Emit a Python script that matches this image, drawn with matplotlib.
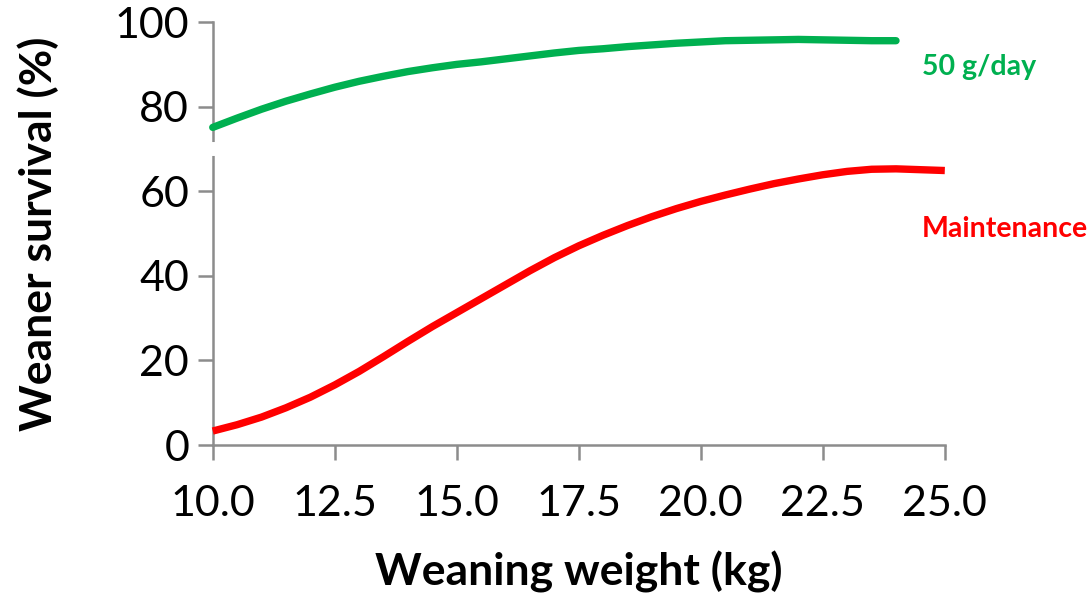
import matplotlib.pyplot as plt

# Datos (cada 0.5 kg)
peso_verde = [10, 10.5, 11, 11.5, 12, 12.5, 13, 13.5, 14, 14.5, 15, 15.5, 16,
              16.5, 17, 17.5, 18, 18.5, 19, 19.5, 20, 20.5, 21, 21.5, 22,
              22.5, 23, 23.5, 24]
superv_verde = [75.1, 77.3, 79.4, 81.3, 83.0, 84.6, 86.0, 87.2, 88.3, 89.2,
                90.0, 90.6, 91.3, 92.0, 92.7, 93.3, 93.7, 94.2, 94.6, 95.0,
                95.3, 95.6, 95.7, 95.8, 95.9, 95.8, 95.7, 95.6, 95.6]

peso_rojo = [10, 10.5, 11, 11.5, 12, 12.5, 13, 13.5, 14, 14.5, 15, 15.5, 16,
             16.5, 17, 17.5, 18, 18.5, 19, 19.5, 20, 20.5, 21, 21.5, 22,
             22.5, 23, 23.5, 24, 24.5, 25]
superv_rojo = [3.3, 4.8, 6.6, 8.8, 11.3, 14.2, 17.4, 20.9, 24.5, 28.0,
               31.3, 34.6, 37.9, 41.2, 44.3, 47.1, 49.6, 51.9, 54.0, 55.9,
               57.6, 59.1, 60.5, 61.8, 62.9, 63.9, 64.7, 65.2, 65.3, 65.1,
               64.9]

xticks = [10.0, 12.5, 15.0, 17.5, 20.0, 22.5, 25.0]
yticks = [0, 20, 40, 60, 80, 100]

gris = '#8c8c8c'

fig = plt.figure(figsize=(10.91, 5.97), dpi=100)
ax = fig.add_axes([0.195, 0.2546, 0.671, 0.7084])

ax.plot(peso_verde, superv_verde, color='#00B050', lw=5.3,
        solid_capstyle='round', solid_joinstyle='round', clip_on=False,
        zorder=3)
ax.plot(peso_rojo, superv_rojo, color='#FF0000', lw=5.3,
        solid_capstyle='butt', solid_joinstyle='round', clip_on=False,
        zorder=3)

ax.set_xlim(10, 25)
ax.set_ylim(0, 100)
ax.set_xticks(xticks)
ax.set_xticklabels([f'{t:.1f}' for t in xticks])
ax.set_yticks(yticks)

for lado in ['top', 'right']:
    ax.spines[lado].set_visible(False)
for lado in ['left', 'bottom']:
    ax.spines[lado].set_color(gris)
    ax.spines[lado].set_linewidth(1.8)

ax.tick_params(axis='both', colors=gris, length=11, width=1.8,
               direction='out', labelcolor='black', labelsize=31)
for lab in ax.get_xticklabels() + ax.get_yticklabels():
    lab.set_family('Lato')
ax.tick_params(axis='x', pad=18)
ax.tick_params(axis='y', pad=6)

# corte del eje y
ax.plot([10, 10], [69.2, 71.0], color='white', lw=5, clip_on=False, zorder=4)

ax.set_xlabel('Weaning weight (kg)', fontsize=32, fontweight='bold',
              family='Lato', labelpad=20)
ax.set_ylabel('Weaner survival (%)', fontsize=32, fontweight='bold',
              family='Lato', labelpad=40)

ax.text(24.53, 89.4, '50 g/day', color='#00B050', fontsize=20.5,
        fontweight='bold', family='Lato', va='center', ha='left')
ax.text(24.53, 51.1, 'Maintenance', color='#FF0000', fontsize=20.5,
        fontweight='bold', family='Lato', va='center', ha='left')

fig.savefig('out.png', dpi=100)
